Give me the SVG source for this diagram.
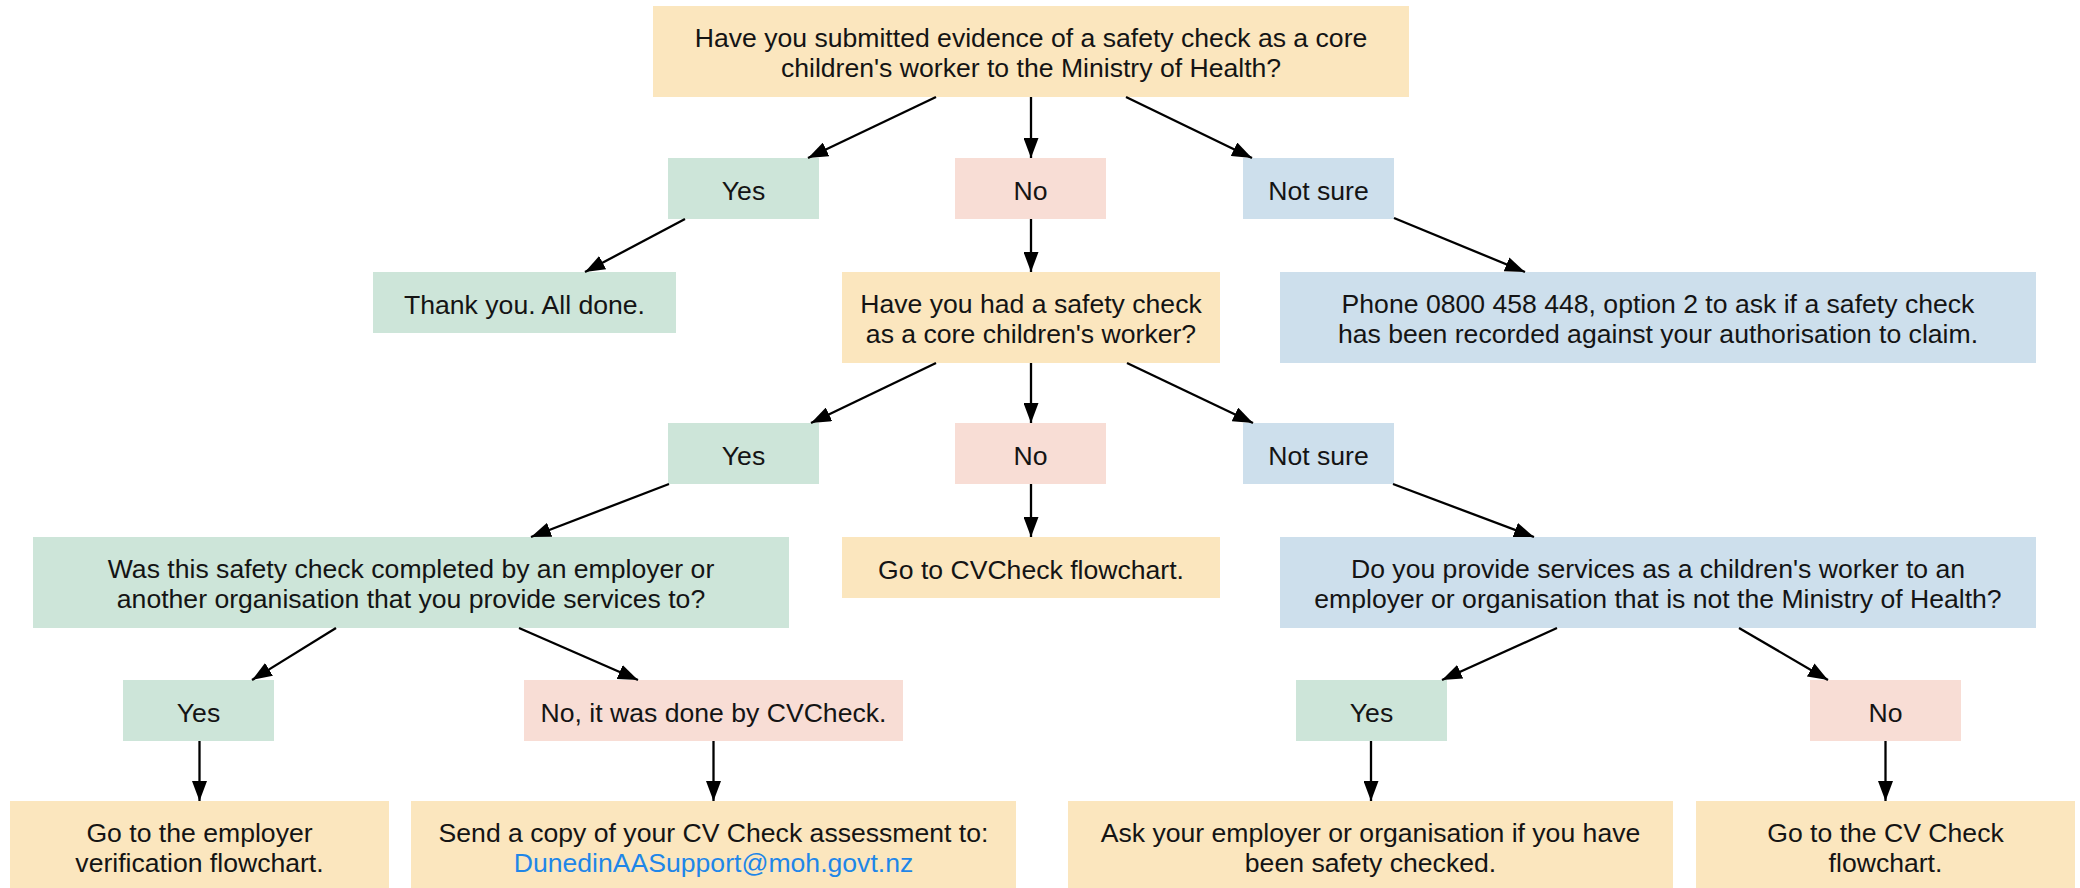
<svg xmlns="http://www.w3.org/2000/svg" width="2080" height="888" viewBox="0 0 2080 888">
<defs>
<marker id="ah" markerUnits="userSpaceOnUse" markerWidth="20" markerHeight="15" refX="20" refY="7.5" orient="auto">
<path d="M0,0 L20,7.5 L0,15 z" fill="#000"/>
</marker>
<style>
.g{fill:#cde5d9}
.p{fill:#f8ddd5}
.b{fill:#cddfec}
.y{fill:#fbe6be}
text{font-family:"Liberation Sans",Arial,Helvetica,sans-serif;font-size:26.6px;fill:#141414;text-anchor:middle}
.link{fill:#1f86e8}
#conn line{stroke:#000;stroke-width:2.3;marker-end:url(#ah)}
</style>
</defs>
<rect width="2080" height="888" fill="#fff"/>

<g id="n_top"><rect class="y" x="653" y="6" width="756" height="91"/>
<text x="1031" y="46.5">Have you submitted evidence of a safety check as a core</text>
<text x="1031" y="77">children's worker to the Ministry of Health?</text></g>

<g id="n_yes1"><rect class="g" x="668" y="158" width="151" height="61"/><text x="743.5" y="199.5">Yes</text></g>
<g id="n_no1"><rect class="p" x="955" y="158" width="151" height="61"/><text x="1030.5" y="199.5">No</text></g>
<g id="n_ns1"><rect class="b" x="1243" y="158" width="151" height="61"/><text x="1318.5" y="199.5">Not sure</text></g>

<g id="n_thanks"><rect class="g" x="373" y="272" width="303" height="61"/><text x="524.5" y="313.5">Thank you. All done.</text></g>
<g id="n_had"><rect class="y" x="842" y="272" width="378" height="91"/>
<text x="1031" y="312.5">Have you had a safety check</text>
<text x="1031" y="343">as a core children's worker?</text></g>
<g id="n_phone"><rect class="b" x="1280" y="272" width="756" height="91"/>
<text x="1658" y="312.5">Phone 0800 458 448, option 2 to ask if a safety check</text>
<text x="1658" y="343">has been recorded against your authorisation to claim.</text></g>

<g id="n_yes2"><rect class="g" x="668" y="423" width="151" height="61"/><text x="743.5" y="464.5">Yes</text></g>
<g id="n_no2"><rect class="p" x="955" y="423" width="151" height="61"/><text x="1030.5" y="464.5">No</text></g>
<g id="n_ns2"><rect class="b" x="1243" y="423" width="151" height="61"/><text x="1318.5" y="464.5">Not sure</text></g>

<g id="n_was"><rect class="g" x="33" y="537" width="756" height="91"/>
<text x="411" y="577.5">Was this safety check completed by an employer or</text>
<text x="411" y="608">another organisation that you provide services to?</text></g>
<g id="n_gocv"><rect class="y" x="842" y="537" width="378" height="61"/><text x="1031" y="578.5">Go to CVCheck flowchart.</text></g>
<g id="n_provide"><rect class="b" x="1280" y="537" width="756" height="91"/>
<text x="1658" y="577.5">Do you provide services as a children's worker to an</text>
<text x="1658" y="608">employer or organisation that is not the Ministry of Health?</text></g>

<g id="n_yes3"><rect class="g" x="123" y="680" width="151" height="61"/><text x="198.5" y="721.5">Yes</text></g>
<g id="n_no3"><rect class="p" x="524" y="680" width="379" height="61"/><text x="713.5" y="721.5">No, it was done by CVCheck.</text></g>
<g id="n_yes4"><rect class="g" x="1296" y="680" width="151" height="61"/><text x="1371.5" y="721.5">Yes</text></g>
<g id="n_no4"><rect class="p" x="1810" y="680" width="151" height="61"/><text x="1885.5" y="721.5">No</text></g>

<g id="n_emp"><rect class="y" x="10" y="801" width="379" height="91"/>
<text x="199.5" y="841.5">Go to the employer</text>
<text x="199.5" y="872">verification flowchart.</text></g>
<g id="n_send"><rect class="y" x="411" y="801" width="605" height="91"/>
<text x="713.5" y="841.5">Send a copy of your CV Check assessment to:</text>
<text class="link" x="713.5" y="872">DunedinAASupport@moh.govt.nz</text></g>
<g id="n_ask"><rect class="y" x="1068" y="801" width="605" height="91"/>
<text x="1370.5" y="841.5">Ask your employer or organisation if you have</text>
<text x="1370.5" y="872">been safety checked.</text></g>
<g id="n_gocv2"><rect class="y" x="1696" y="801" width="379" height="91"/>
<text x="1885.5" y="841.5">Go to the CV Check</text>
<text x="1885.5" y="872">flowchart.</text></g>

<g id="conn">
<line x1="936" y1="97" x2="808" y2="158"/>
<line x1="1031" y1="97" x2="1031" y2="158"/>
<line x1="1126" y1="97" x2="1252" y2="158"/>
<line x1="685" y1="219" x2="585" y2="272"/>
<line x1="1031" y1="219" x2="1031" y2="272"/>
<line x1="1394" y1="218" x2="1525" y2="272"/>
<line x1="936" y1="363" x2="811" y2="423"/>
<line x1="1031" y1="363" x2="1031" y2="423"/>
<line x1="1127" y1="363" x2="1253" y2="423"/>
<line x1="669" y1="484" x2="531" y2="537"/>
<line x1="1031" y1="484" x2="1031" y2="537"/>
<line x1="1393" y1="484" x2="1534" y2="537"/>
<line x1="336" y1="628" x2="252" y2="680"/>
<line x1="519" y1="628" x2="638" y2="680"/>
<line x1="1557" y1="628" x2="1442" y2="680"/>
<line x1="1739" y1="628" x2="1828" y2="680"/>
<line x1="199.5" y1="741" x2="199.5" y2="801"/>
<line x1="713.5" y1="741" x2="713.5" y2="801"/>
<line x1="1371" y1="741" x2="1371" y2="801"/>
<line x1="1885.5" y1="741" x2="1885.5" y2="801"/>
</g>
</svg>
